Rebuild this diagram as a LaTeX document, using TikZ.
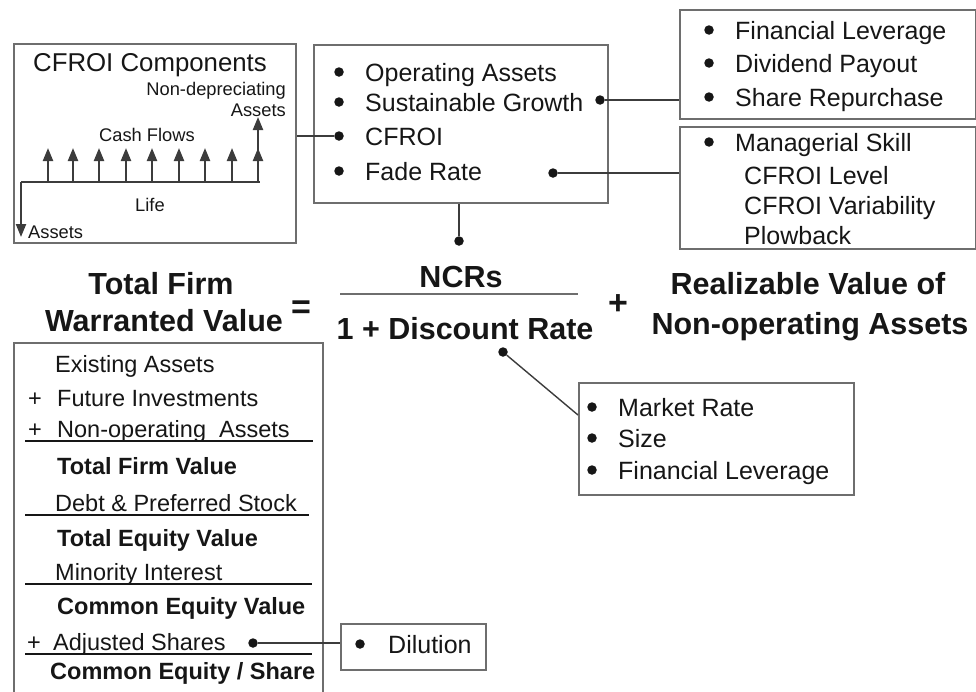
\documentclass[tikz,border=0pt]{standalone}
\usepackage{fontspec}
\setmainfont{Liberation Sans}
\usetikzlibrary{arrows.meta}
\definecolor{ink}{HTML}{161616}
\definecolor{boxgray}{HTML}{6E6E6E}
\definecolor{wire}{HTML}{3C3C3C}
\begin{document}
\begin{tikzpicture}[x=1pt,y=-1pt,
  panel/.style={draw=boxgray, line width=2pt, rectangle, inner sep=0pt, anchor=north west},
  bul/.style={circle, fill=ink, inner sep=0pt, minimum size=9.5pt},
  link/.style={draw=wire, line width=1.4pt},
  item/.style={anchor=west, inner sep=0pt, text=ink, font=\fontsize{25}{30}\selectfont, text height=18pt, text depth=0pt},
  small/.style={inner sep=0pt, text=ink, font=\fontsize{18.3}{22}\selectfont, text height=13pt, text depth=0pt},
  eq/.style={inner sep=0pt, text=ink, font=\bfseries\fontsize{30.5}{36}\selectfont, text height=22pt, text depth=0pt},
  row/.style={anchor=west, inner sep=0pt, text=ink, font=\fontsize{23.5}{28}\selectfont, text height=17pt, text depth=0pt},
  rowb/.style={row, font=\bfseries\fontsize{23.5}{28}\selectfont},
  rule/.style={draw=ink, line width=1.3pt},
  flow/.style={draw=wire, line width=2.2pt, -{Triangle[length=13pt,width=10pt]}}]
\useasboundingbox (0,0) rectangle (976,691);
\clip (0,0) rectangle (976,691);

% ---------- CFROI components panel ----------
\node[panel, minimum width=282pt, minimum height=199pt] (cfbox) at (13,43) {};
\node[inner sep=0pt, text=ink, font=\fontsize{25.8}{30}\selectfont, text height=18pt, text depth=0pt] (cftitle) at (150,62) {CFROI Components};
\node[small, anchor=east] (nd1) at (286,89) {Non-depreciating};
\node[small, anchor=east] (nd2) at (286,110) {Assets};
\node[small] (cash) at (147,135) {Cash Flows};
\node[small] (life) at (150,205) {Life};
\node[small, anchor=west] (ast) at (28,232) {Assets};
\coordinate (t0) at (21,182);
\coordinate (tend) at (260,182);
\coordinate (tdown) at (21,237);
\draw[draw=wire, line width=2.2pt] (t0) -- (tend);
\draw[flow] (t0) -- (tdown);
\foreach \xx in {48,73,99,126,152,179,205,232,258}
  \draw[flow] (\xx,182) -- (\xx,148);
\draw[flow] (258,150) -- (258,117);

% ---------- value drivers panel ----------
\node[panel, minimum width=294pt, minimum height=158pt] (drv) at (313,44) {};
\node[bul] (b1) at (339,72) {};
\node[item] (t1) at (365,72) {Operating Assets};
\node[bul] (b2) at (339,102) {};
\node[item] (t2) at (365,102) {Sustainable Growth};
\node[bul] (b3) at (339,136) {};
\node[item] (t3) at (365,136) {CFROI};
\node[bul] (b4) at (339,171) {};
\node[item] (t4) at (365,171) {Fade Rate};
\node[bul] (dg) at (600,100) {};
\node[bul] (df) at (553,173) {};
\node[bul] (dn) at (459,241) {};

% ---------- growth panel ----------
\node[panel, minimum width=296pt, minimum height=109pt] (grw) at (679,9) {};
\node[bul] (g1) at (709,30) {};
\node[item] (gt1) at (735,30) {Financial Leverage};
\node[bul] (g2) at (709,63) {};
\node[item] (gt2) at (735,63) {Dividend Payout};
\node[bul] (g3) at (709,97) {};
\node[item] (gt3) at (735,97) {Share Repurchase};

% ---------- fade panel ----------
\node[panel, minimum width=296pt, minimum height=122pt] (fad) at (679,126) {};
\node[bul] (f1) at (709,142) {};
\node[item] (ft1) at (735,142) {Managerial Skill};
\node[item] (ft2) at (744,175) {CFROI Level};
\node[item] (ft3) at (744,205) {CFROI Variability};
\node[item] (ft4) at (744,235) {Plowback};

% ---------- connectors (upper part) ----------
\draw[link] (cfbox.east |- b3) -- (b3);
\draw[link] (dg) -- (grw.west |- dg);
\draw[link] (df) -- (fad.west |- df);
\draw[link] (drv.south -| dn) -- (dn);

% ---------- valuation equation ----------
\node[eq] (lhs1) at (161,283) {Total Firm};
\node[eq] (lhs2) at (164,320) {Warranted Value};
\node[eq, font=\bfseries\fontsize{34}{40}\selectfont] (eqs) at (301,307) {=};
\node[eq] (num) at (461,276) {NCRs};
\coordinate (barL) at (340,294);
\coordinate (barR) at (578,294);
\draw[draw=boxgray, line width=2.5pt] (barL) -- (barR);
\node[eq] (den) at (465,328) {1 + Discount Rate};
\node[eq, font=\bfseries\fontsize{34}{40}\selectfont] (plus) at (618,303) {+};
\node[eq] (rhs1) at (808,283) {Realizable Value of};
\node[eq] (rhs2) at (810,323) {Non-operating Assets};

% ---------- discount rate panel ----------
\node[bul] (dd) at (503,352) {};
\node[panel, minimum width=275pt, minimum height=112pt] (dsc) at (578,382) {};
\node[bul] (m1) at (592,407) {};
\node[item] (mt1) at (618,407) {Market Rate};
\node[bul] (m2) at (592,438) {};
\node[item] (mt2) at (618,438) {Size};
\node[bul] (m3) at (592,470) {};
\node[item] (mt3) at (618,470) {Financial Leverage};
\coordinate (dscin) at (578,415);
\draw[link] (dd) -- (dscin);

% ---------- value build-up panel ----------
\node[panel, minimum width=309pt, minimum height=370pt] (bld) at (13,342) {};
\node[row] (r1) at (55,364) {Existing Assets};
\node[row] (p2) at (28,398) {+};
\node[row] (r2) at (57,398) {Future Investments};
\node[row] (p3) at (28,429) {+};
\node[row] (r3) at (57,429) {Non-operating\ \ Assets};
\draw[rule] (25,441) -- (313,441);
\node[rowb] (r4) at (57,466) {Total Firm Value};
\node[row] (r5) at (55,503) {Debt \& Preferred Stock};
\draw[rule] (25,515) -- (309,515);
\node[rowb] (r6) at (57,538) {Total Equity Value};
\node[row] (r7) at (55,572) {Minority Interest};
\draw[rule] (25,584) -- (312,584);
\node[rowb] (r8) at (57,606) {Common Equity Value};
\node[row] (p9) at (27,642) {+};
\node[row] (r9) at (53,642) {Adjusted Shares};
\draw[rule] (25,654) -- (312,654);
\node[rowb] (r10) at (50,671) {Common Equity / Share};
\node[bul] (da) at (253,643) {};

% ---------- dilution panel ----------
\node[panel, minimum width=145pt, minimum height=46pt] (dil) at (340,623) {};
\node[bul] (d1) at (360,644) {};
\node[item] (dt1) at (388,644) {Dilution};
\draw[link] (da) -- (dil.west |- da);
\end{tikzpicture}
\end{document}
